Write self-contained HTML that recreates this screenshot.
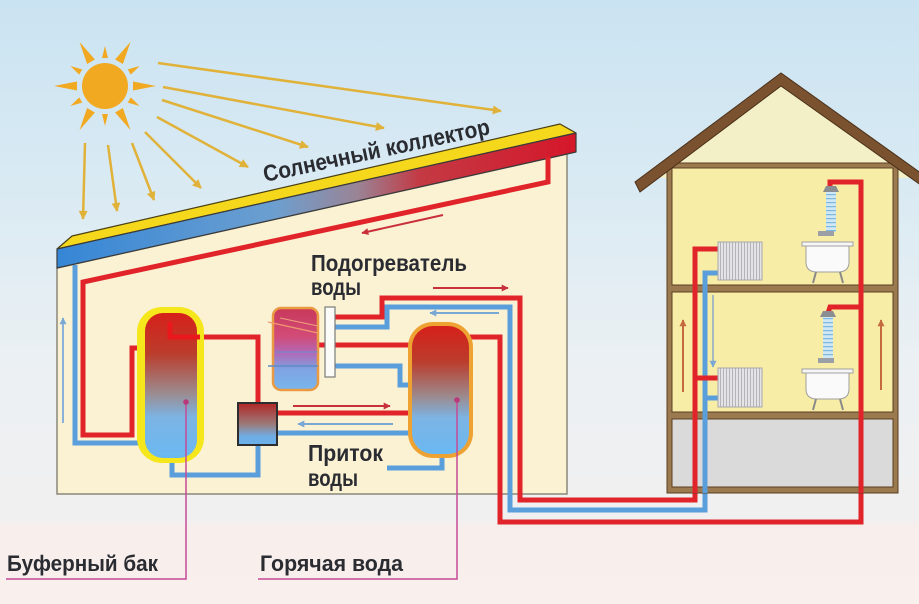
<!DOCTYPE html>
<html><head><meta charset="utf-8"><style>
html,body{margin:0;padding:0;background:#f0f1f2;}
svg{display:block;}
text{font-family:"Liberation Sans","DejaVu Sans",sans-serif;font-weight:bold;fill:#2a2c32;}
</style></head><body>
<svg width="919" height="604" viewBox="0 0 919 604" xmlns="http://www.w3.org/2000/svg">
<defs>
<linearGradient id="sky" x1="0" y1="0" x2="0" y2="604" gradientUnits="userSpaceOnUse">
<stop offset="0" stop-color="#cae3f2"/><stop offset="0.3" stop-color="#d9eaf3"/><stop offset="0.6" stop-color="#ebf0f3"/><stop offset="0.86" stop-color="#f1f0f0"/><stop offset="0.875" stop-color="#f8eeec"/><stop offset="1" stop-color="#f9f0ee"/>
</linearGradient>
<linearGradient id="board" x1="57" y1="0" x2="575" y2="0" gradientUnits="userSpaceOnUse">
<stop offset="0" stop-color="#3586d6"/><stop offset="0.42" stop-color="#6c9fd0"/><stop offset="0.58" stop-color="#9a8496"/><stop offset="0.7" stop-color="#c33a44"/><stop offset="1" stop-color="#d5172a"/>
</linearGradient>
<linearGradient id="tank" x1="0" y1="0" x2="0" y2="1">
<stop offset="0" stop-color="#d6201a"/><stop offset="0.28" stop-color="#bb3d2c"/><stop offset="0.55" stop-color="#9c8a8e"/><stop offset="0.72" stop-color="#7cb4e4"/><stop offset="1" stop-color="#6ab8f2"/>
</linearGradient>
<linearGradient id="heat" x1="0" y1="0" x2="0" y2="1">
<stop offset="0" stop-color="#c8385a"/><stop offset="0.35" stop-color="#d24c78"/><stop offset="0.55" stop-color="#b068b8"/><stop offset="0.75" stop-color="#7ea4e2"/><stop offset="1" stop-color="#78b6ee"/>
</linearGradient>
<linearGradient id="pump" x1="0" y1="0" x2="0" y2="1">
<stop offset="0" stop-color="#b22626"/><stop offset="0.5" stop-color="#9c7a78"/><stop offset="0.8" stop-color="#6eaee6"/><stop offset="1" stop-color="#6ab0ea"/>
</linearGradient>
<pattern id="fins" width="3" height="10" patternUnits="userSpaceOnUse"><rect width="3" height="10" fill="#e4e4e6"/><rect width="1" height="10" fill="#b4b4b8"/></pattern>
<pattern id="water" width="10" height="4" patternUnits="userSpaceOnUse"><rect width="10" height="4" fill="#cfe8f4"/><rect y="2" width="10" height="1.2" fill="#7db8de"/></pattern>
<marker id="ag" viewBox="0 0 10 10" refX="9" refY="5" markerWidth="10" markerHeight="9" markerUnits="userSpaceOnUse" orient="auto"><path d="M0,0 L10,5 L0,10 z" fill="#e1b23a"/></marker>
<marker id="ar" viewBox="0 0 10 10" refX="9" refY="5" markerWidth="9" markerHeight="7" markerUnits="userSpaceOnUse" orient="auto"><path d="M0,0 L10,5 L0,10 z" fill="#c8303a"/></marker>
<marker id="ab" viewBox="0 0 10 10" refX="9" refY="5" markerWidth="9" markerHeight="7" markerUnits="userSpaceOnUse" orient="auto"><path d="M0,0 L10,5 L0,10 z" fill="#7aa8d4"/></marker>
<marker id="abr" viewBox="0 0 10 10" refX="9" refY="5" markerWidth="8" markerHeight="7" markerUnits="userSpaceOnUse" orient="auto"><path d="M0,0 L10,5 L0,10 z" fill="#c46a3c"/></marker>
</defs>

<rect width="919" height="604" fill="url(#sky)"/>

<!-- Sun -->
<g transform="translate(105,86)" fill="#f2a922">
<circle r="23"/>
<g>
<polygon points="28,-4.5 51,0 28,4.5" transform="rotate(0)"/>
<polygon points="28,-4.5 51,0 28,4.5" transform="rotate(60)"/>
<polygon points="28,-4.5 51,0 28,4.5" transform="rotate(120)"/>
<polygon points="28,-4.5 51,0 28,4.5" transform="rotate(180)"/>
<polygon points="28,-4.5 51,0 28,4.5" transform="rotate(240)"/>
<polygon points="28,-4.5 51,0 28,4.5" transform="rotate(300)"/>
<polygon points="28,-3 40,0 28,3" transform="rotate(30)"/>
<polygon points="28,-3 40,0 28,3" transform="rotate(90)"/>
<polygon points="28,-3 40,0 28,3" transform="rotate(150)"/>
<polygon points="28,-3 40,0 28,3" transform="rotate(210)"/>
<polygon points="28,-3 40,0 28,3" transform="rotate(270)"/>
<polygon points="28,-3 40,0 28,3" transform="rotate(330)"/>
</g>
</g>

<!-- Sun rays arrows -->
<g stroke="#e1b23a" stroke-width="2.5" marker-end="url(#ag)" fill="none">
<line x1="158" y1="63" x2="501" y2="111"/>
<line x1="163" y1="87" x2="384" y2="128"/>
<line x1="162" y1="100" x2="308" y2="147"/>
<line x1="157" y1="117" x2="248" y2="167"/>
<line x1="145" y1="132" x2="201" y2="188"/>
<line x1="132" y1="143" x2="154" y2="200"/>
<line x1="108" y1="145" x2="117" y2="211"/>
<line x1="85" y1="143" x2="83" y2="219"/>
</g>

<!-- Building wall -->
<polygon points="57,268 567,154 567,494 57,494" fill="#fbf2d4" stroke="#8a877a" stroke-width="1.5"/>

<!-- Collector board -->
<polygon points="57,249 72,236 560,124 576,133" fill="#f5d81c" stroke="#4a4014" stroke-width="1.2" stroke-linejoin="round"/>
<polygon points="57,249 576,133 576,152 57,268" fill="url(#board)" stroke="#3a3a3a" stroke-width="1.2" stroke-linejoin="round"/>

<text transform="translate(265,182) rotate(-12)" font-size="23" textLength="231" lengthAdjust="spacingAndGlyphs">Солнечный коллектор</text>

<!-- left outside arrow -->
<line x1="63" y1="423" x2="63" y2="318" stroke="#8ab2d8" stroke-width="2" marker-end="url(#ab)"/>

<!-- Pipes in building -->
<g fill="none" stroke-width="5" stroke-linejoin="miter">
<polyline points="75,265 75,443 147,443" stroke="#5a9edb"/>
<polyline points="548,157 548,182 83,282 83,435 132,435 132,348 152,348" stroke="#e0242a"/>
<polyline points="170,320 170,337 258,337 258,405" stroke="#e0242a"/>
<polyline points="172,455 172,475 258,475 258,443" stroke="#5a9edb"/>
<polyline points="335,317 382,317 382,298 520,298 520,500 695,500 695,249 720,249" stroke="#e0242a"/>
<polyline points="335,327 387,327 387,307 510,307 510,510 705,510 705,273 720,273" stroke="#5a9edb"/>
<polyline points="470,337 500,337 500,522 861,522 861,182 830,182 830,188" stroke="#e0242a"/>
<line x1="861" y1="307" x2="828" y2="307" stroke="#e0242a"/>
<polyline points="695,378 720,378" stroke="#e0242a"/>
<polyline points="705,398 720,398" stroke="#5a9edb"/>
<line x1="318" y1="345" x2="410" y2="345" stroke="#e0242a"/>
<polyline points="335,366 400,366 400,385 412,385" stroke="#5a9edb"/>
<line x1="277" y1="413" x2="410" y2="413" stroke="#e0242a"/>
<line x1="277" y1="433" x2="410" y2="433" stroke="#5a9edb"/>
<polyline points="442,455 442,468 387,468" stroke="#5a9edb"/>
</g>

<!-- arrows in building -->
<line x1="443" y1="215" x2="362" y2="233" stroke="#c8303a" stroke-width="2" marker-end="url(#ar)"/>
<line x1="433" y1="288" x2="508" y2="288" stroke="#c8303a" stroke-width="2" marker-end="url(#ar)"/>
<line x1="499" y1="313" x2="430" y2="313" stroke="#7aa8d4" stroke-width="2" marker-end="url(#ab)"/>
<line x1="293" y1="406" x2="390" y2="406" stroke="#c8303a" stroke-width="2" marker-end="url(#ar)"/>
<line x1="393" y1="424" x2="298" y2="424" stroke="#7aa8d4" stroke-width="2" marker-end="url(#ab)"/>

<!-- Buffer tank -->
<rect x="137" y="307" width="67" height="156" rx="25" fill="#f6e61c"/>
<rect x="145" y="313" width="52" height="145" rx="18" fill="url(#tank)"/>
<polyline points="170,322 170,337 200,337" fill="none" stroke="#e8181c" stroke-width="5"/>

<!-- Heater -->
<rect x="273" y="308" width="45" height="82" rx="8" fill="url(#heat)" stroke="#e99a42" stroke-width="2.5"/>
<line x1="268" y1="322" x2="318" y2="333" stroke="#f09a70" stroke-width="1.2"/>
<line x1="280" y1="318" x2="318" y2="326" stroke="#f0a080" stroke-width="1"/>
<line x1="268" y1="366" x2="318" y2="366" stroke="#5a8cc8" stroke-width="1.5"/>
<line x1="275" y1="352" x2="318" y2="352" stroke="#6a90d0" stroke-width="1"/>
<rect x="325" y="307" width="10" height="70" fill="#fbfbf8" stroke="#7a7a7a" stroke-width="1.2"/>

<!-- Pump -->
<rect x="238" y="403" width="39" height="42" fill="url(#pump)" stroke="#2e2e2e" stroke-width="2"/>

<!-- Hot water tank -->
<rect x="408" y="322" width="65" height="136" rx="25" fill="#eea232"/>
<rect x="412" y="326" width="57" height="128" rx="21" fill="url(#tank)"/>

<!-- magenta leader lines -->
<g stroke="#c64a98" stroke-width="1.5" fill="none">
<polyline points="186,402 186,579 6,579"/>
<polyline points="457,400 457,579 258,579"/>
</g>
<circle cx="186" cy="402" r="2.8" fill="#b83a7a"/>
<circle cx="457" cy="400" r="2.8" fill="#b83a7a"/>

<!-- Labels -->
<text x="311" y="271" font-size="23" textLength="156" lengthAdjust="spacingAndGlyphs">Подогреватель</text>
<text x="311" y="295" font-size="23" textLength="50" lengthAdjust="spacingAndGlyphs">воды</text>
<text x="308" y="461" font-size="23" textLength="75" lengthAdjust="spacingAndGlyphs">Приток</text>
<text x="308" y="486" font-size="23" textLength="50" lengthAdjust="spacingAndGlyphs">воды</text>
<text x="7" y="571" font-size="22" textLength="151" lengthAdjust="spacingAndGlyphs">Буферный бак</text>
<text x="260" y="571" font-size="22" textLength="143" lengthAdjust="spacingAndGlyphs">Горячая вода</text>

<!-- House -->
<polygon points="655,178 781,84 910,178" fill="#f3efc6"/>
<rect x="667" y="163" width="231" height="330" fill="#9a7a4e" stroke="#5c3f22" stroke-width="1"/>
<rect x="672" y="168" width="221" height="117" fill="#f8eda6" stroke="#5c3f22" stroke-width="1"/>
<rect x="672" y="292" width="221" height="120" fill="#f8eda6" stroke="#5c3f22" stroke-width="1"/>
<rect x="672" y="419" width="221" height="68" fill="#dadada" stroke="#5c3f22" stroke-width="1"/>
<polygon points="635,182 781,73 925,176 925,188 781,86 640,192" fill="#7b5230" stroke="#4a3018" stroke-width="1"/>

<!-- House pipes -->
<g fill="none" stroke-width="5">
<polyline points="695,493 695,249 720,249" stroke="#e0242a"/>
<polyline points="705,493 705,273 720,273" stroke="#5a9edb"/>
<polyline points="861,493 861,182 830,182 830,188" stroke="#e0242a"/>
<polyline points="861,307 830,307 828,313" stroke="#e0242a"/>
<line x1="695" y1="378" x2="720" y2="378" stroke="#e0242a"/>
<line x1="705" y1="398" x2="720" y2="398" stroke="#5a9edb"/>
</g>

<!-- radiators -->
<rect x="718" y="242" width="44" height="38" fill="url(#fins)" stroke="#a8a8ac" stroke-width="1"/>
<rect x="718" y="368" width="44" height="39" fill="url(#fins)" stroke="#a8a8ac" stroke-width="1"/>

<!-- showers & tubs -->
<g>
<rect x="826" y="191" width="10" height="41" fill="url(#water)"/>
<path d="M823,192 L839,192 L836,186 L826,186 Z" fill="#8a8e92"/>
<path d="M818,231 L834,231 L834,236 L818,236 Z" fill="#9aa0a6"/>
<rect x="802" y="242" width="51" height="4" fill="#f6f6f6" stroke="#a0a0a0" stroke-width="1"/>
<path d="M806,246 L849,246 L849,262 Q849,272 838,272 L817,272 Q806,272 806,262 Z" fill="#fafafa" stroke="#a0a0a0" stroke-width="1"/>
<line x1="816" y1="272" x2="813" y2="283" stroke="#8a8a8a" stroke-width="2"/>
<line x1="840" y1="272" x2="843" y2="283" stroke="#8a8a8a" stroke-width="2"/>

<rect x="823" y="316" width="10" height="42" fill="url(#water)"/>
<path d="M820,317 L836,317 L833,311 L823,311 Z" fill="#8a8e92"/>
<path d="M818,358 L834,358 L834,363 L818,363 Z" fill="#9aa0a6"/>
<rect x="802" y="369" width="51" height="4" fill="#f6f6f6" stroke="#a0a0a0" stroke-width="1"/>
<path d="M806,373 L849,373 L849,389 Q849,399 838,399 L817,399 Q806,399 806,389 Z" fill="#fafafa" stroke="#a0a0a0" stroke-width="1"/>
<line x1="816" y1="399" x2="813" y2="410" stroke="#8a8a8a" stroke-width="2"/>
<line x1="840" y1="399" x2="843" y2="410" stroke="#8a8a8a" stroke-width="2"/>
</g>

<!-- house arrows -->
<line x1="683" y1="392" x2="683" y2="320" stroke="#c46a3c" stroke-width="2" marker-end="url(#abr)"/>
<line x1="881" y1="390" x2="881" y2="320" stroke="#c46a3c" stroke-width="2" marker-end="url(#abr)"/>
<line x1="713" y1="295" x2="713" y2="367" stroke="#8aa8c8" stroke-width="1.5" marker-end="url(#ab)"/>
</svg>
</body></html>
